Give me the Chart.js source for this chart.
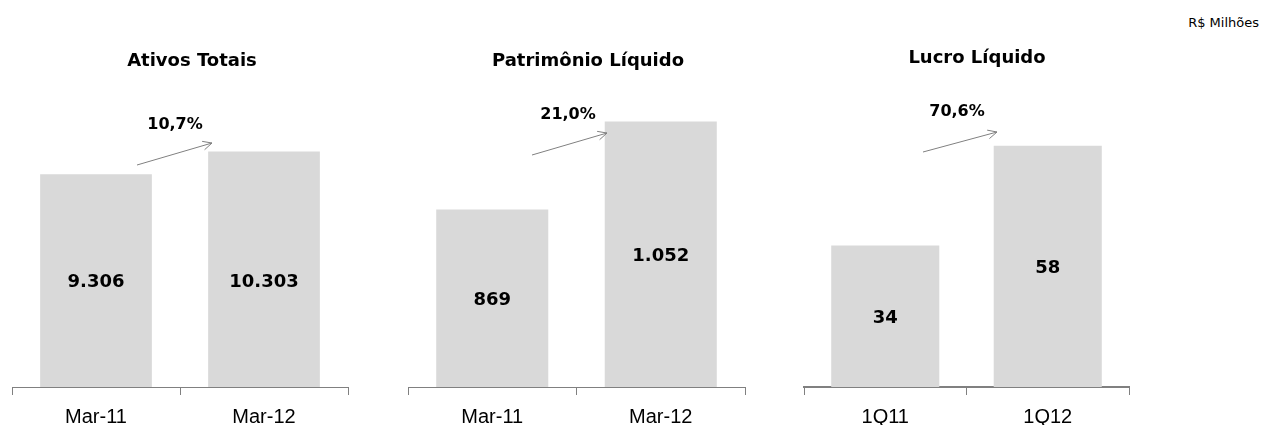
<!DOCTYPE html>
<html>
<head>
<meta charset="utf-8">
<script src="https://cdn.jsdelivr.net/npm/chart.js@4.4.1/dist/chart.umd.min.js"></script>
<style>
    html, body { margin: 0; padding: 0; background: #fff; }
    body { width: 1263px; height: 425px; position: relative; overflow: hidden; }
    .panel { position: absolute; top: 0; }
    #unit { position: absolute; right: 4px; top: 15px; font: 13px "DejaVu Sans", sans-serif; color: #000; }
</style>
</head>
<body>
<div id="unit">R$ Milhões</div>
<div class="panel" style="left:10px"><canvas id="chart1" width="340" height="425"></canvas></div>
<div class="panel" style="left:406px"><canvas id="chart2" width="341" height="425"></canvas></div>
<div class="panel" style="left:802px"><canvas id="chart3" width="329" height="425"></canvas></div>
<script>
// data
var panelTitles = ["Ativos Totais", "Patrimônio Líquido", "Lucro Líquido"];
var ativosLabels = ["Mar-11", "Mar-12"];
var ativosValues = [9306, 10303];
var patrimonioLabels = ["Mar-11", "Mar-12"];
var patrimonioValues = [869, 1052];
var lucroLabels = ["1Q11", "1Q12"];
var lucroValues = [34, 58];
var growthLabels = ["10,7%", "21,0%", "70,6%"];

function fmt(v) {
    return String(v).replace(/\B(?=(\d{3})+(?!\d))/g, ".");
}

// annotations plugin: titles, value labels, growth arrow
var panelPlugin = {
    id: "panelDecor",
    afterDatasetsDraw: function (chart) {
        var o = chart.options.plugins.panelDecor;
        var ctx = chart.ctx;
        var bottom = chart.chartArea.bottom;
        var bars = chart.getDatasetMeta(0).data;
        var mids = bars.map(function (b) { return (b.y + Math.min(b.base, bottom)) / 2 + 2; });
        var same = Math.max.apply(null, mids);
        ctx.save();
        ctx.fillStyle = "#000";
        ctx.font = "bold 18px 'DejaVu Sans'";
        ctx.textAlign = "center";
        ctx.textBaseline = "middle";
        bars.forEach(function (b, i) {
            var y = o.sameLevel ? same : mids[i];
            ctx.fillText(fmt(chart.data.datasets[0].data[i]), b.x, y);
        });
        ctx.restore();
    },
    afterDraw: function (chart) {
        var o = chart.options.plugins.panelDecor;
        var ctx = chart.ctx;
        var dx = -o.left;
        ctx.save();
        ctx.fillStyle = "#000";
        ctx.textAlign = "center";
        ctx.textBaseline = "middle";
        ctx.font = "bold 18px 'DejaVu Sans'";
        ctx.fillText(o.title, o.titleX + dx, o.titleY);
        ctx.font = "bold 16px 'DejaVu Sans'";
        ctx.fillText(o.growth, o.growthX + dx, o.growthY);

        // arrow
        var a = o.arrow;
        var x1 = a[0] + dx, y1 = a[1], x2 = a[2] + dx, y2 = a[3];
        var ang = Math.atan2(y2 - y1, x2 - x1);
        ctx.strokeStyle = "#808080";
        ctx.lineWidth = 1;
        ctx.beginPath();
        ctx.moveTo(x1, y1);
        ctx.lineTo(x2, y2);
        ctx.moveTo(x2 - 10 * Math.cos(ang - 0.45), y2 - 10 * Math.sin(ang - 0.45));
        ctx.lineTo(x2, y2);
        ctx.lineTo(x2 - 10 * Math.cos(ang + 0.45), y2 - 10 * Math.sin(ang + 0.45));
        ctx.stroke();
        ctx.restore();
    }
};

function makeChart(id, labels, values, yMin, yMax, decor) {
    return new Chart(id, {
        type: "bar",
        data: {
            labels: labels,
            datasets: [{
                data: values,
                backgroundColor: "#d9d9d9",
                borderWidth: 0,
                barPercentage: 1,
                categoryPercentage: 0.665
            }]
        },
        options: {
            responsive: false,
            animation: false,
            devicePixelRatio: 1,
            layout: { padding: { top: 60, left: 2, right: 2, bottom: 0 } },
            plugins: {
                legend: { display: false },
                tooltip: { enabled: false },
                panelDecor: decor
            },
            scales: {
                x: {
                    offset: true,
                    border: { display: true, color: "#808080", width: decor.axisWidth },
                    grid: {
                        offset: true,
                        drawOnChartArea: false,
                        drawTicks: true,
                        tickLength: 8,
                        color: "#808080"
                    },
                    ticks: {
                        color: "#000",
                        padding: 10,
                        maxRotation: 0,
                        autoSkip: false,
                        font: { family: "'Liberation Sans'", size: 20 }
                    },
                    afterFit: function (scale) { scale.height = 38; }
                },
                y: { display: false, min: yMin, max: yMax }
            }
        },
        plugins: [panelPlugin]
    });
}

makeChart("chart1", ativosLabels, ativosValues, 0, 14300, {
    left: 10, title: panelTitles[0], titleX: 192, titleY: 61,
    growth: growthLabels[0], growthX: 175, growthY: 125,
    arrow: [137, 165, 212, 143], sameLevel: true, axisWidth: 1
});
makeChart("chart2", patrimonioLabels, patrimonioValues, 500, 1180, {
    left: 406, title: panelTitles[1], titleX: 588, titleY: 61,
    growth: growthLabels[1], growthX: 568, growthY: 115,
    arrow: [532, 155, 607, 133], sameLevel: false, axisWidth: 1
});
makeChart("chart3", lucroLabels, lucroValues, 0, 78.6, {
    left: 802, title: panelTitles[2], titleX: 977, titleY: 58,
    growth: growthLabels[2], growthX: 957, growthY: 112,
    arrow: [923, 152, 997, 132], sameLevel: false, axisWidth: 2
});
</script>
</body>
</html>
